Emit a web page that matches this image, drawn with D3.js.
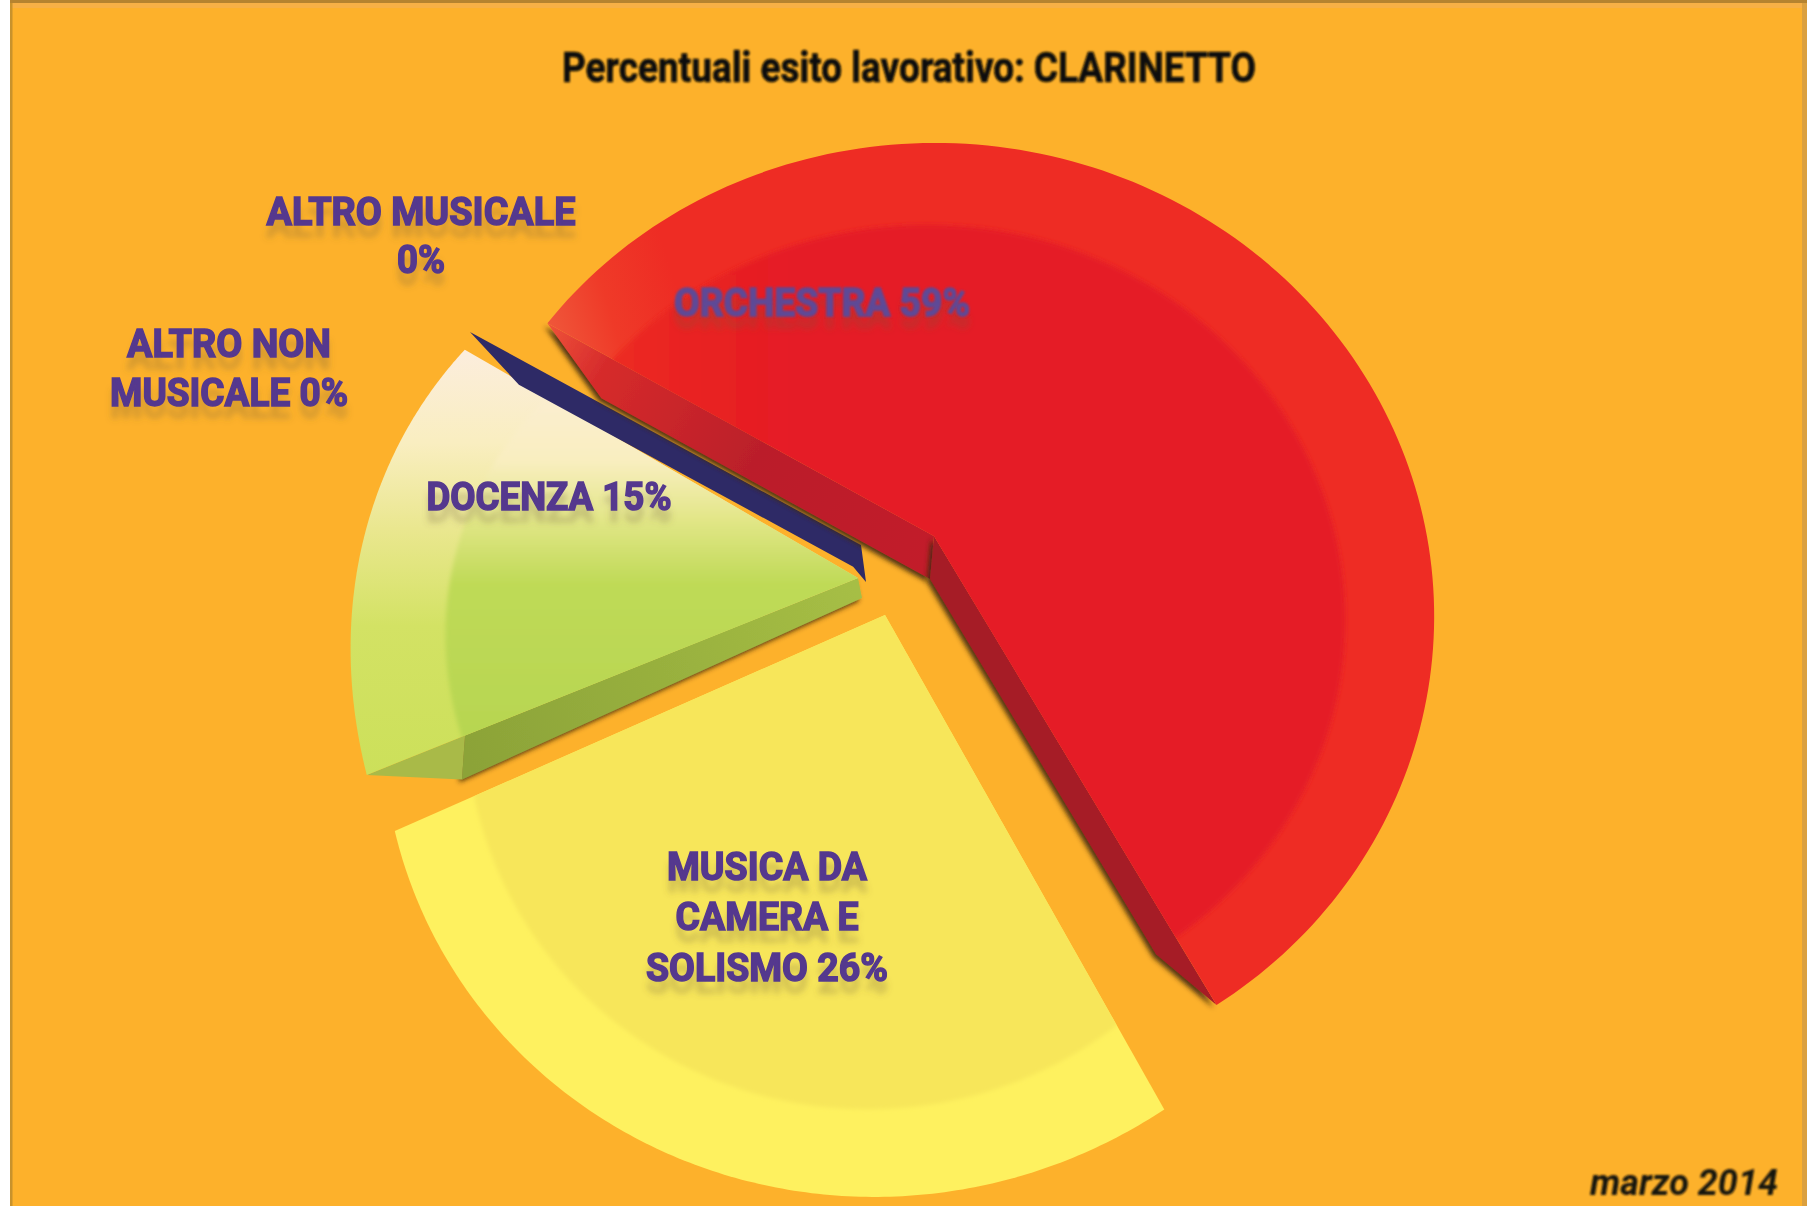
<!DOCTYPE html>
<html><head><meta charset="utf-8">
<script src="https://cdn.jsdelivr.net/npm/d3@7"></script>
<style>html,body{margin:0;padding:0;background:#fff}svg{display:block}</style>
</head><body><svg id="c" width="1807" height="1206"></svg>
<script>
// ---- data ----
const categories = ["ORCHESTRA", "MUSICA DA CAMERA E SOLISMO", "DOCENZA", "ALTRO NON MUSICALE", "ALTRO MUSICALE"];
const percentages = [59, 26, 15, 0, 0];
const titleText = "Percentuali esito lavorativo: CLARINETTO";
const dateText = "marzo 2014";

// ---- perspective frames: how each exploded slice's angles land on the page ----
const deg = Math.PI/180;
const frames = {
  "ORCHESTRA": {apex:[934,536], c:[927,620], rx:510, ry:482, u0:-50.4*deg, u1:144.6*deg, ka:-.034, kb:-.02, k:.82},
  "MUSICA DA CAMERA E SOLISMO": {apex:[885,615], c:[868,719], rx:490, ry:476, u0:143.6*deg, u1:256.3*deg, ka:.019, kb:-.006, k:.82},
  "DOCENZA": {apex:[858,578], c:[773,635], rx:420, ry:420, u0:251*deg, u1:312.8*deg, ka:.023, kb:0, k:.78}
};
const labels = [
  {lines:["ORCHESTRA 59%"], cx:822, y:[316], w:[296], soft:true},
  {lines:["MUSICA DA","CAMERA E","SOLISMO 26%"], cx:767, y:[880,930,981], w:[200,183,242]},
  {lines:["DOCENZA 15%"], cx:549, y:[510], w:[245]},
  {lines:["ALTRO NON","MUSICALE 0%"], cx:229, y:[357,406], w:[204,238]},
  {lines:["ALTRO MUSICALE","0%"], cx:421, y:[225,273], w:[309,48]}
];

const svg = d3.select("#c");
const defs = svg.append("defs");
function grad(id, x1,y1,x2,y2, stops){
  const g = defs.append("linearGradient").attr("id",id).attr("gradientUnits","userSpaceOnUse")
    .attr("x1",x1).attr("y1",y1).attr("x2",x2).attr("y2",y2);
  stops.forEach(s=>g.append("stop").attr("offset",s[0]).attr("stop-color",s[1]));
}
grad("redOuter",545,340,680,300,[[0,"#EF5A3C"],[.5,"#EF3A28"],[1,"#EE2C24"]]);
grad("redInner",620,330,800,330,[[0,"#EC2A22"],[.5,"#E82020"],[1,"#E51F27"]]);
grad("redWallA",545,325,930,560,[[0,"#F0533A"],[.16,"#D62B2C"],[.55,"#BB1F2A"],[1,"#C21E2B"]]);
grad("greenOuter",0,350,0,775,[[0,"#FCEDDD"],[.22,"#F9EEC0"],[.42,"#EAE78F"],[.65,"#D3E264"],[1,"#CCE05A"]]);
grad("greenInner",0,350,0,775,[[0,"#FCEDDD"],[.26,"#F9EEC0"],[.40,"#E2E687"],[.55,"#BFDA57"],[1,"#B5D54F"]]);
grad("greenWall",470,760,860,600,[[0,"#8CA338"],[.5,"#98B03E"],[1,"#A6BE45"]]);

const sh = defs.append("filter").attr("id","wallShadow").attr("x","-10%").attr("y","-10%").attr("width","120%").attr("height","120%");
sh.append("feDropShadow").attr("dx",-3).attr("dy",3).attr("stdDeviation",2.6).attr("flood-color","#3f2c08").attr("flood-opacity",.9);
function textFilter(id, sourceBlur){
  const tf = defs.append("filter").attr("id",id).attr("x","-10%").attr("y","-20%").attr("width","120%").attr("height","170%");
  tf.append("feGaussianBlur").attr("in","SourceAlpha").attr("stdDeviation",3).attr("result","b");
  tf.append("feOffset").attr("in","b").attr("dy",12).attr("result","o");
  tf.append("feFlood").attr("flood-color","#6b5a3a").attr("flood-opacity",.27);
  tf.append("feComposite").attr("in2","o").attr("operator","in").attr("result","s");
  tf.append("feGaussianBlur").attr("in","SourceGraphic").attr("stdDeviation",sourceBlur).attr("result","g");
  const tm = tf.append("feMerge"); tm.append("feMergeNode").attr("in","s"); tm.append("feMergeNode").attr("in","g");
}
textFilter("txtRefl",.7);
textFilter("txtReflSoft",1.3);
defs.append("filter").attr("id","soft").append("feGaussianBlur").attr("stdDeviation",.8);
const blur3 = defs.append("filter").attr("id","bevel").attr("x","-5%").attr("y","-5%").attr("width","110%").attr("height","110%");
blur3.append("feGaussianBlur").attr("stdDeviation",2);

// backdrop
svg.append("rect").attr("x",10).attr("y",0).attr("width",1797).attr("height",1206).attr("fill","#FDB12B");
svg.append("rect").attr("x",10).attr("y",0).attr("width",1797).attr("height",3).attr("fill","#B5832F");
svg.append("rect").attr("x",10).attr("y",3).attr("width",1797).attr("height",5).attr("fill","#F7B046");
svg.append("rect").attr("x",10).attr("y",3).attr("width",2.5).attr("height",1203).attr("fill","#C8922C");
svg.append("rect").attr("x",1802).attr("y",3).attr("width",5).attr("height",1203).attr("fill","#DBA03F");

// ---- pie layout ----
const arcs = d3.pie().sort(null).value(d=>d.value)(categories.map((name,i)=>({name,value:percentages[i]})));
const byName = Object.fromEntries(arcs.map(a=>[a.data.name,a]));

const line=d3.line();
function project(name){
  const d=byName[name], f=frames[name];
  const uOf=d3.scaleLinear().domain([d.startAngle,d.endAngle]).range([f.u0,f.u1]);
  const frac=d3.scaleLinear().domain([d.startAngle,d.endAngle]).range([0,1]);
  const rim=t=>{
    const u=uOf(t), x=frac(t), s=1+f.ka*Math.pow(1-x,4)+f.kb*Math.pow(x,4);
    return [f.c[0]+s*f.rx*Math.sin(u), f.c[1]-s*f.ry*Math.cos(u)];
  };
  const P=(t,r)=>{const q=rim(t);return [f.apex[0]+r*(q[0]-f.apex[0]),f.apex[1]+r*(q[1]-f.apex[1])];};
  return {d,f,rim,P};
}
function facePath(pr){
  const ts=d3.range(0,161).map(i=>pr.d.startAngle+(pr.d.endAngle-pr.d.startAngle)*i/160);
  return line([pr.f.apex].concat(ts.map(pr.rim)))+"Z";
}
function bevelPath(pr){
  const f=pr.f;
  return line(d3.range(0,180).map(i=>{const u=i*2*deg;
    return [f.c[0]+f.k*f.rx*Math.sin(u), f.c[1]-f.k*f.ry*Math.cos(u)];}))+"Z";
}
const add=(p,d)=>[p[0]+d[0],p[1]+d[1]];
const poly=pts=>line(pts)+"Z";
const g=svg.append("g");
function drawFace(pr,id,outer,inner){
  defs.append("clipPath").attr("id",id).append("path").attr("d",facePath(pr));
  g.append("path").attr("d",facePath(pr)).attr("fill",outer);
  g.append("g").attr("clip-path",`url(#${id})`)
   .append("path").attr("d",bevelPath(pr)).attr("fill",inner).attr("filter","url(#bevel)");
}

// yellow
const ye=project(categories[1]);
drawFace(ye,"cY","#FEF15F","#F7E65A");

// green
const gr=project(categories[2]);
const ge=gr.d.startAngle;
const gNear=[4,20], gFar=[-3,44];
g.append("path").attr("d",poly([gr.P(ge,0),add(gr.P(ge,0),gNear),add(gr.P(ge,.8),gFar),gr.P(ge,.8)]))
  .attr("fill","url(#greenWall)").attr("filter","url(#wallShadow)");
g.append("path").attr("d",poly([gr.P(ge,.8),add(gr.P(ge,.8),gFar),gr.P(ge,1)])).attr("fill","#A9BA48");
drawFace(gr,"cG","url(#greenOuter)","url(#greenInner)");

// zero-value slice: a sliver with depth only
{
  const A=[861,545],T=[470,332],dep=[0,26];
  const along=d3.interpolateArray(A,T);
  g.append("path").attr("d",poly([T,add(along(.875),dep),add(along(.02),dep),[866,582],A]))
    .attr("fill","#2E2A66");
}

// red
const re=project(categories[0]);
const depth=[-4,43];
const ra=re.d.startAngle, rb=re.d.endAngle;
g.append("path").attr("d",poly([re.P(ra,1),add(re.P(ra,.85),depth),add(re.P(ra,0),depth),re.P(ra,0)]))
  .attr("fill","url(#redWallA)").attr("filter","url(#wallShadow)");
g.append("path").attr("d",poly([re.P(rb,0),add(re.P(rb,0),depth),add(re.P(rb,.8),depth),re.P(rb,1)]))
  .attr("fill","#A61A25").attr("filter","url(#wallShadow)");
drawFace(re,"cR","url(#redOuter)","url(#redInner)");

// ---- text ----
svg.append("text").text(titleText).attr("x",562).attr("y",82)
  .attr("textLength",694).attr("lengthAdjust","spacingAndGlyphs")
  .attr("font-family","Roboto").attr("font-weight",700).attr("font-size",42).attr("fill","#0a0a08")
  .attr("stroke","#0a0a08").attr("stroke-width",.6).attr("filter","url(#soft)");
svg.append("text").text(dateText).attr("x",1590).attr("y",1195)
  .attr("textLength",188).attr("lengthAdjust","spacingAndGlyphs")
  .attr("font-family","Roboto").attr("font-weight",700).attr("font-style","italic").attr("font-size",36).attr("fill","#15120c")
  .attr("filter","url(#soft)");
labels.forEach(L=>{
  L.lines.forEach((t,i)=>{
    svg.append("text").text(t).attr("x",L.cx-L.w[i]/2).attr("y",L.y[i])
      .attr("textLength",L.w[i]).attr("lengthAdjust","spacingAndGlyphs")
      .attr("font-family","Roboto").attr("font-weight",700).attr("font-size",39)
      .attr("fill",L.soft?"#5E4A96":"#54388E").attr("stroke",L.soft?"#5E4A96":"#54388E").attr("stroke-width",1.5)
      .attr("filter",L.soft?"url(#txtReflSoft)":"url(#txtRefl)");
  });
});
</script></body></html>
